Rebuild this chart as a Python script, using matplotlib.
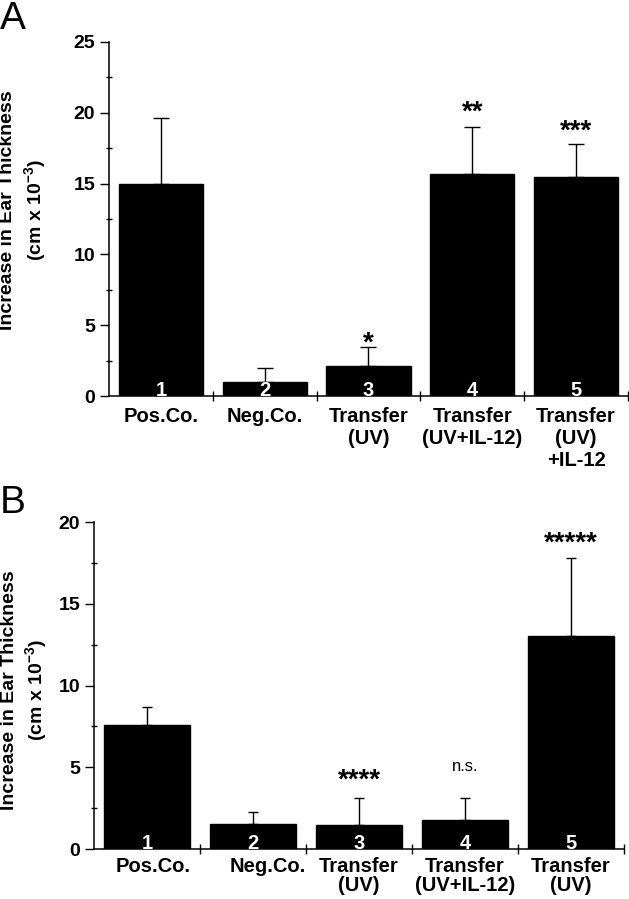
import numpy as np
import matplotlib
matplotlib.use("Agg")
import matplotlib.pyplot as plt
from matplotlib.ticker import MultipleLocator, NullFormatter

plt.rcParams.update({'font.family': 'Liberation Sans',
                     'mathtext.fontset': 'custom',
                     'mathtext.rm': 'Liberation Sans:bold',
                     'mathtext.default': 'rm',
                     'axes.linewidth': 1.1})

# ---- data
bar_ids = ['1', '2', '3', '4', '5']

labels_a = ['Pos.Co.', 'Neg.Co.', 'Transfer\n(UV)', 'Transfer\n(UV+IL-12)', 'Transfer\n(UV)\n+IL-12']
mean_a = [15.0, 1.0, 2.1, 15.7, 15.5]
err_a = [4.6, 1.0, 1.35, 3.3, 2.3]
sig_a = ['', '', '*', '**', '***']

labels_b = ['Pos.Co.', 'Neg.Co.', 'Transfer\n(UV)', 'Transfer\n(UV+IL-12)', 'Transfer\n(UV)']
mean_b = [7.6, 1.55, 1.45, 1.8, 13.05]
err_b = [1.1, 0.7, 1.7, 1.3, 4.75]
sig_b = ['', '', '****', 'n.s.', '*****']

ylabel = 'Increase in Ear Thickness\n(cm x 10$^{-3}$)'


def panel(ax, means, errs, labels, sig, ymax, capsize, sig_off, lab_dx, lab_pad, lab_ls):
    x = np.arange(len(means))
    ax.bar(x, means, width=0.81, color='black', edgecolor='black', zorder=2)
    ax.errorbar(x, means, yerr=[np.zeros(len(errs)), errs], fmt='none', ecolor='black',
                elinewidth=1.0, capsize=capsize, capthick=1.0, zorder=1)
    for i in range(len(means)):
        ax.text(x[i], 0, bar_ids[i], color='white', ha='center', va='baseline',
                fontsize=14.5, fontweight='bold', zorder=4)
        ax.annotate(labels[i], (x[i], 0), xytext=(lab_dx[i], -lab_pad), textcoords='offset points',
                    ha='center', va='top', multialignment='center', fontsize=14.5,
                    fontweight='bold', linespacing=lab_ls, annotation_clip=False)
        if sig[i]:
            if sig[i] == 'n.s.':
                ax.annotate(sig[i], (x[i], means[i] + errs[i]), xytext=(0, sig_off[i]),
                            textcoords='offset points', ha='center', va='baseline', fontsize=12)
            else:
                ax.annotate(sig[i], (x[i], means[i] + errs[i]), xytext=(0, sig_off[i]),
                            textcoords='offset points', ha='center', va='baseline',
                            fontsize=20, fontweight='bold')
    ax.set_xlim(-0.5, len(means) - 0.5)
    ax.set_ylim(0, ymax)
    ax.set_xticks(np.arange(0.5, len(means), 1))
    ax.xaxis.set_major_formatter(NullFormatter())
    ax.tick_params(axis='x', direction='inout', length=7, width=1.0)
    ax.yaxis.set_major_locator(MultipleLocator(5))
    ax.yaxis.set_minor_locator(MultipleLocator(2.5))
    ax.tick_params(axis='y', which='major', direction='out', length=6.5, width=1.0, pad=3.5,
                   labelsize=14)
    ax.tick_params(axis='y', which='minor', direction='inout', length=5, width=1.0)
    for lab in ax.get_yticklabels():
        lab.set_fontweight('bold')
    ax.spines['top'].set_visible(False)
    ax.spines['right'].set_visible(False)


fig = plt.figure(figsize=(6.29, 8.99), dpi=100)
ax_a = fig.add_axes([0.1733, 0.5595, 0.8251, 0.3938])
ax_b = fig.add_axes([0.1494, 0.0556, 0.8426, 0.3637])

panel(ax_a, mean_a, err_a, labels_a, sig_a, 25, 5.8, [0, 0, -2.5, 5.5, 4], [0, 0, 0, 0, 0],
      8, 1.18)
panel(ax_b, mean_b, err_b, labels_b, sig_b, 20, 3.6, [0, 0, 7, 19.5, 5.5], [4.5, 11, 0, 0, 0],
      5.5, 1.0)

fig.text(0.037, 0.766, ylabel, rotation=90, ha='center', va='center', fontsize=14,
         fontweight='bold', linespacing=1.3)
fig.text(0.040, 0.2325, ylabel, rotation=90, ha='center', va='center', fontsize=14,
         fontweight='bold', linespacing=1.3)

fig.text(0.0, 0.999, 'A', fontsize=28, ha='left', va='top')
fig.text(0.0, 0.4605, 'B', fontsize=28, ha='left', va='top')

fig.savefig('out.png', dpi=100)
